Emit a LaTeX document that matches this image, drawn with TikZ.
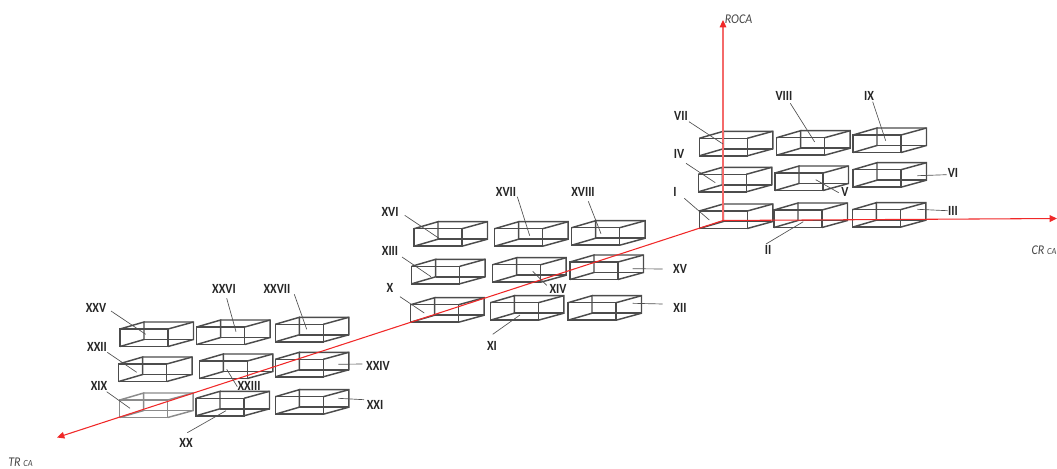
\documentclass[tikz,border=0pt]{standalone}
\usepackage{fontspec}
\setmainfont{Carlito}
\newfontfamily\labfont[FakeStretch=0.86]{Carlito Bold}
\newfontfamily\axfont[FakeStretch=0.9]{Carlito Italic}
\usetikzlibrary{arrows.meta}
\definecolor{boxc}{HTML}{4C4C4C}
\definecolor{leadc}{HTML}{505050}
\definecolor{axisc}{HTML}{F02828}
\definecolor{axisv}{HTML}{F46A6A}
\definecolor{txtc}{HTML}{262626}
\tikzset{
  boxline/.style={draw=boxc,line width=1.1pt,line join=miter},
  lightbox/.style={draw=boxc!65,line width=1.1pt},
  leader/.style={draw=leadc,line width=0.5pt},
  axisline/.style={draw=axisc,line width=0.8pt,-{Triangle[length=5.5pt,width=5pt]}},
  axisvert/.style={axisline,draw=axisv,{-{Triangle[length=5.5pt,width=5pt,color=axisc]}}},
  numlab/.style={font=\fontsize{10.5}{11}\labfont,text=txtc,inner sep=0.5pt},
  axlab/.style={font=\fontsize{10}{11}\axfont,text=txtc!85,inner sep=0pt}
}
\newcommand{\smallcase}[1]{{\fontsize{7}{8}\selectfont #1}}
\newcommand{\cuboid}[3][boxline]{%
  \begin{scope}[shift={(#2,#3)}]
    \draw[#1] (0,0) rectangle (48,17.5);
    \draw[#1] (24,-7) -- (73.5,-7) -- (73.5,10.5) -- (48,17.5);
    \draw[#1] (0,0) -- (24,-7) -- (24,10.5) -- (0,17.5);
    \draw[#1] (48,0) -- (73.5,-7);
    \draw[#1] (24,10.5) -- (73.5,10.5);
  \end{scope}}
\begin{document}
\begin{tikzpicture}[x=0.75pt,y=-0.75pt]
\useasboundingbox (0,0) rectangle (1057,468);
% boxes
\foreach \x/\y in {699.3/211, 774/210, 852.3/209.7, 698.3/174.3, 775/173, 853/169.7,
  699.3/138.3, 776.7/137.7, 853/135, 410.7/304.7, 490.3/302.7, 568/302.7,
  411.7/266.3, 492.7/264.7, 570/262, 414/228.7, 494.7/228.7, 571.7/227.7,
  196/398.3, 275.3/396.7, 118.7/364, 199.3/361, 275.3/359.3,
  120/329, 196.7/327, 275.3/324.3}
  {\cuboid{\x}{\y}}
\cuboid[lightbox]{119.7}{400}
% axes
\coordinate (O) at (723,220.5);
\coordinate (roca) at (723,20);
\coordinate (cr) at (1057,218.5);
\coordinate (tr) at (57,437.5);
\draw[axisvert] (O) -- (roca);
\draw[axisline] (O) -- (cr);
\draw[axisline] (O) -- (tr);
\node[axlab] (lroca) at (738.5,19) {ROCA};
\node[axlab] (lcr) at (1044,250) {CR \smallcase{CA}};
\node[axlab] (ltr) at (20.5,462) {TR \smallcase{CA}};
% labels and leaders
\foreach \t/\lx/\ly/\sx/\sy/\ex/\ey in {
  VII/681/116/689/121.7/723/144,
  VIII/784/96/790.3/103.3/814.7/142,
  IX/869/96/872.7/101.7/885.7/140.7,
  IV/679/154/686/163.3/715.3/182.7,
  V/845/192/838.7/192.7/815.7/179.7,
  VI/953/173/946.7/174.7/917.3/175.7,
  I/675/192/684.3/198.3/709.3/220,
  II/768/250/766/244/803.3/221.7,
  III/953/211/947.7/210.7/917.3/209.3,
  XVI/390/212/404.7/215.3/439/238.3,
  XVII/506/192/517.3/196.7/529.7/235.7,
  XVIII/583/192/588.3/201.3/601/233.7,
  XIII/390/251/402/257/431/276.7,
  XIV/558/289/546.7/285.3/532.7/271.3,
  XV/680/269/662.7/269/632.7/268.7,
  X/390/288/400/296.7/424.3/313,
  XI/492/346/492.7/334.3/520/315,
  XII/680/308/662.7/304/632.7/303.3,
  XXV/96/308/111/311/145.7/334.3,
  XXVI/224/289/226.7/298.3/236/331.7,
  XXVII/277/289/294.3/294.3/306.7/329.3,
  XXII/97/347/107.3/352.3/136.7/372.3,
  XXIII/249/386/237.3/386.7/226.7/369.3,
  XXIV/378/366/362.3/364/338.3/364.3,
  XIX/99/386/106.7/391.7/130/408.3,
  XX/186/443/187.3/432.7/226/410.7,
  XXI/375/405/364/399.7/338.3/398.3}
{
  \node[numlab] (l\t) at (\lx,\ly) {\t};
  \coordinate (s\t) at (\sx,\sy);
  \coordinate (e\t) at (\ex,\ey);
  \draw[leader] (s\t) -- (e\t);
}
\end{tikzpicture}
\end{document}
